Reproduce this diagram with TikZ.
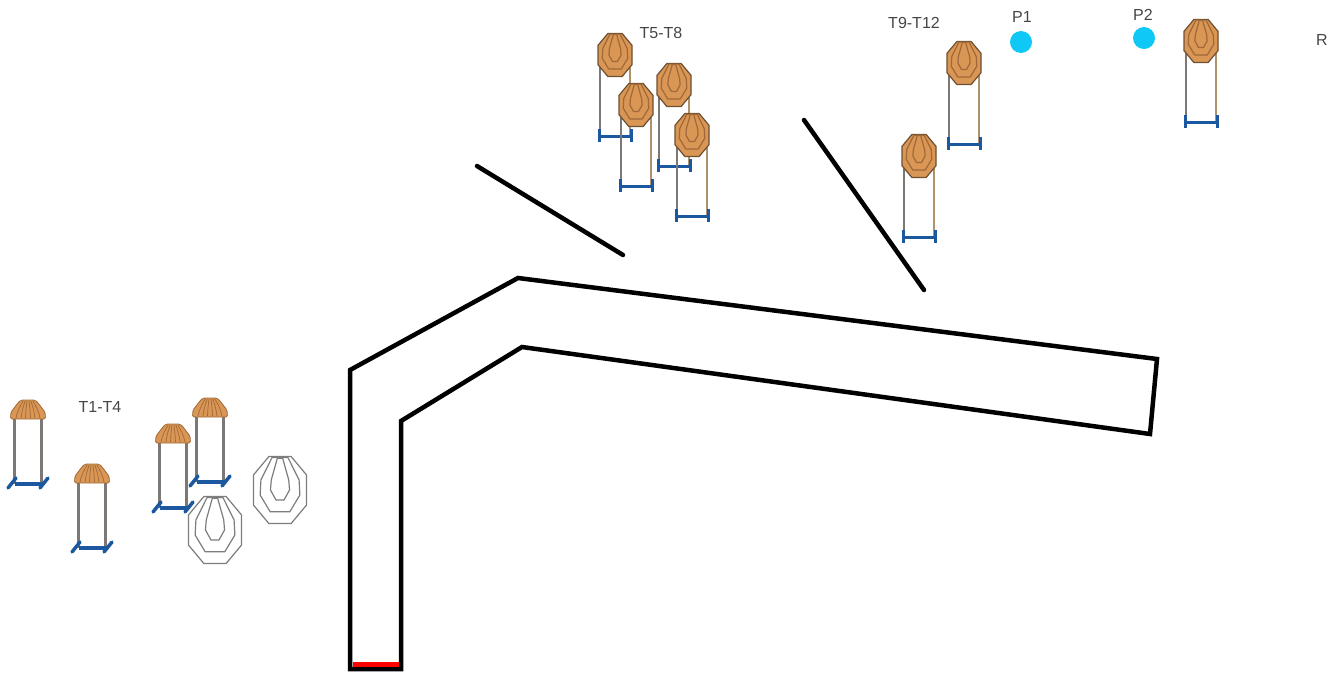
\documentclass[tikz,border=0pt]{standalone}
\usepackage{fontspec}
\setmainfont{Liberation Sans}
\definecolor{faceBrown}{RGB}{217,150,85}
\definecolor{faceEdge}{RGB}{110,80,50}
\definecolor{faceRing}{RGB}{160,105,55}
\definecolor{ringGray}{RGB}{125,125,125}
\definecolor{standBlue}{RGB}{28,88,160}
\definecolor{postGray}{RGB}{125,120,115}
\definecolor{postTan}{RGB}{175,145,110}
\definecolor{popperCyan}{RGB}{15,200,245}
\definecolor{labelGray}{RGB}{70,70,70}
\tikzset{
  wall/.style={line width=4.5pt,line join=miter},
  baffle/.style={line width=4.5pt,line cap=round},
  labeltext/.style={inner sep=0pt,text=labelGray,font=\fontsize{16}{16}\selectfont},
  popper/.style={circle,fill=popperCyan,minimum size=22pt,inner sep=0pt},
  facering/.style={},
  pics/targetface/.style={code={
    \path[pic actions,line width=1.2pt] (-.42,-1) -- (.42,-1) -- (1,-.45) -- (1,.45) -- (.42,1) -- (-.42,1) -- (-1,.45) -- (-1,-.45) -- cycle;
    \path[pic actions,facering,line width=1.2pt,line join=round] (-.3,-.97) -- (.3,-.97) -- (.72,-.3) -- (.75,.15) -- (.37,.65) -- (-.37,.65) -- (-.75,.15) -- (-.72,-.3) -- cycle;
    \path[pic actions,facering,line width=1.2pt,line join=round] (-.1,-.95) -- (.1,-.95) -- (.33,-.3) -- (.36,0) -- (.15,.3) -- (-.15,.3) -- (-.36,0) -- (-.33,-.3) -- cycle;
  }},
  pics/frontstand/.style={code={
    \draw[line width=2.4pt,postGray] (-15,0) -- (-15,81);
    \draw[line width=2.4pt,postTan] (15,0) -- (15,81);
    \draw[line width=3pt,standBlue] (-15,81) -- (15,81);
    \draw[line width=3pt,standBlue] (-16,74) -- (-16,87) (16,74) -- (16,87);
    \pic[fill=faceBrown,draw=faceEdge,facering/.style={draw=faceRing},xscale=17,yscale=21.5] {targetface};
  }},
  pics/backstand/.style={code={
    \draw[line width=2.4pt,postGray] (-13.5,15) -- (-13.5,85);
    \draw[line width=2.4pt,postGray] (13.5,15) -- (13.5,85);
    \draw[line width=3.5pt,standBlue] (-13.5,85) -- (13.5,85);
    \draw[line width=3.5pt,standBlue,line cap=round] (-20,89) -- (-12,79) (12,89) -- (20,79);
    \fill[faceBrown,draw=faceRing,line width=.8pt,rounded corners=1.5pt] (-17.5,20) -- (-17,13) -- (-13,8) -- (-11,5) -- (-7,1) -- (7,1) -- (11,5) -- (13,8) -- (17,13) -- (17.5,20) -- cycle;
    \foreach \a in {-12,-7,-2.5,2.5,7,12} \draw[faceRing,line width=.7pt] (\a,19) .. controls (\a*.9,12) and (\a*.6,6) .. (\a*.4,2);
  }}
}
\begin{document}
\begin{tikzpicture}[x=1pt,y=-1pt]
\useasboundingbox (0,0) rectangle (1339,673);

% the bay
\draw[wall] (350,669) -- (350,370) -- (518,278) -- (1157,359) -- (1150,434) -- (522,347) -- (401,421) -- (401,669) -- cycle;
\draw[red,line width=4.5pt] (352.5,664.5) -- (398.5,664.5);

% the two baffles
\draw[baffle] (477,166) -- (623,255);
\draw[baffle] (804,120) -- (924,290);

% seen from behind
\foreach \cx/\cy in {28/399,92/463,173/423,210/397}
  \pic at (\cx,\cy) {backstand};

% white faces
\foreach \cx/\cy in {215/530,280/490}
  \pic[fill=white,draw=ringGray,xscale=26.5,yscale=33.5] at (\cx,\cy) {targetface};

% seen from the front
\foreach \cx/\cy in {615/55,636/105,674/85,692/135,964/63,919/156,1201/41}
  \pic at (\cx,\cy) {frontstand};

% poppers
\node[popper] (pOne) at (1021,42) {};
\node[popper] (pTwo) at (1144,38) {};

% labels
\node[labeltext] (lblOne) at (100,407) {T1-T4};
\node[labeltext] (lblFive) at (661,33) {T5-T8};
\node[labeltext] (lblNine) at (914,23) {T9-T12};
\node[labeltext] (lblPOne) at (1022,17) {P1};
\node[labeltext] (lblPTwo) at (1143,15) {P2};
\node[labeltext] (lblR) at (1322,40) {R};

\end{tikzpicture}
\end{document}
